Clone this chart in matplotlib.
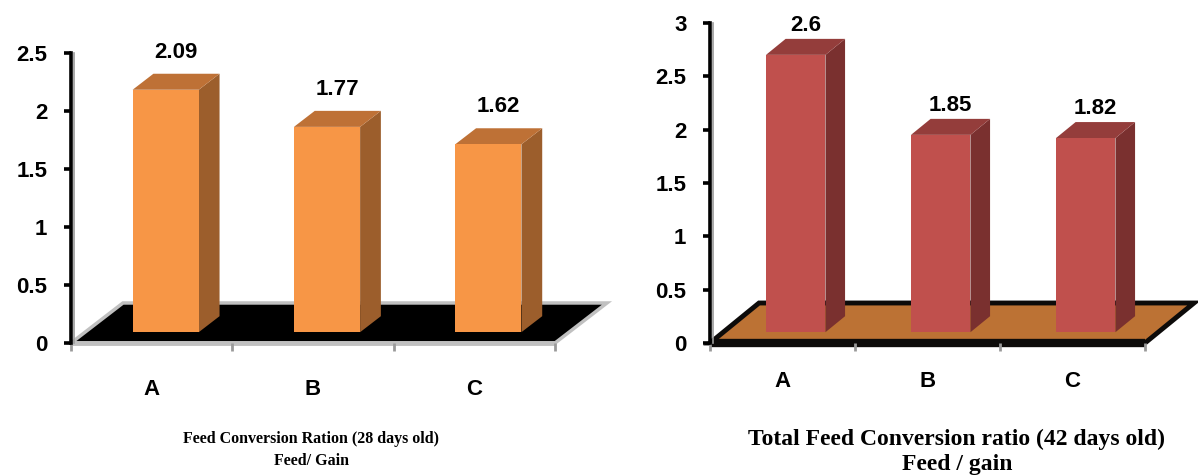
"""
Feed conversion ratio charts (28 and 42 days) drawn as pseudo-3D bars.
"""

import matplotlib
matplotlib.use("Agg")  # no display
import matplotlib.pyplot as plt
from matplotlib.patches import Polygon

# --- data -------------------------------------------------------------
grupos = ["A", "B", "C"]
fcr_28 = [2.09, 1.77, 1.62]
fcr_42 = [2.6, 1.85, 1.82]
rotulos_28 = ["2.09", "1.77", "1.62"]
rotulos_42 = ["2.6", "1.85", "1.82"]
ticks_28 = [0, 0.5, 1, 1.5, 2, 2.5]
ticks_28_txt = ["0", "0.5", "1", "1.5", "2", "2.5"]
ticks_42 = [0, 0.5, 1, 1.5, 2, 2.5, 3]
ticks_42_txt = ["0", "0.5", "1", "1.5", "2", "2.5", "3"]
titulo_28 = "Feed Conversion Ration (28 days old)\nFeed/ Gain"
titulo_42 = "Total Feed Conversion ratio (42 days old)\nFeed / gain"

W, H = 1198, 476
SANS = ["Liberation Sans", "DejaVu Sans"]
SERIF = ["Liberation Serif", "DejaVu Serif"]


def barras_3d(ax, valores, rotulos, ticks, ticks_txt, cores, prof,
              chao_cor, chao_borda, chao_lw, frente_lw, pad_cat, desloc_rot):
    """Bar chart with a slanted floor and boxes (front, top, side)."""
    fdx, fdy = prof
    n = len(valores)
    ax.set_xlim(-0.5, n - 0.5)
    ax.set_ylim(ticks[0], ticks[-1])

    # floor
    chao = Polygon([(-0.5, 0), (n - 0.5, 0), (n - 0.5 + fdx, fdy), (-0.5 + fdx, fdy)],
                   closed=True, facecolor=chao_cor, edgecolor=chao_borda,
                   linewidth=chao_lw, joinstyle="miter", clip_on=False, zorder=1)
    ax.add_patch(chao)
    ax.plot([-0.5, n - 0.5], [0, 0], color=chao_borda, lw=frente_lw,
            solid_capstyle="butt", clip_on=False, zorder=1.5)

    # bars: front face sits at 27% of the floor depth, box depth 40%
    f0, fb = 0.27, 0.40
    larg = 0.41
    bdx, bdy = fb * fdx, fb * fdy
    c_frente, c_topo, c_lado = cores
    for i, (v, txt) in enumerate(zip(valores, rotulos)):
        x0 = i + f0 * fdx - larg / 2
        x1 = x0 + larg
        y0 = f0 * fdy
        y1 = y0 + v
        ax.add_patch(Polygon([(x1, y0), (x1 + bdx, y0 + bdy), (x1 + bdx, y1 + bdy), (x1, y1)],
                             closed=True, facecolor=c_lado, edgecolor="none",
                             clip_on=False, zorder=3))
        ax.add_patch(Polygon([(x0, y1), (x1, y1), (x1 + bdx, y1 + bdy), (x0 + bdx, y1 + bdy)],
                             closed=True, facecolor=c_topo, edgecolor="none",
                             clip_on=False, zorder=3))
        ax.add_patch(Polygon([(x0, y0), (x1, y0), (x1, y1), (x0, y1)],
                             closed=True, facecolor=c_frente, edgecolor="none",
                             clip_on=False, zorder=3))
        ax.annotate(txt, (x0 + larg / 2 + bdx / 2, y1 + bdy), xytext=(0, desloc_rot),
                    textcoords="offset points", ha="center", va="bottom",
                    fontsize=16, fontweight="bold", family=SANS, zorder=4,
                    annotation_clip=False)

    # axes styling
    for s in ("top", "right", "bottom"):
        ax.spines[s].set_visible(False)
    ax.spines["left"].set_linewidth(2.6)
    ax.spines["left"].set_color("black")
    ax.plot([0.007, 0.007], [0, 1], transform=ax.transAxes, color="#9a9a9a",
            lw=1.2, clip_on=False, zorder=2)
    ax.set_yticks(ticks)
    ax.set_yticklabels(ticks_txt, fontsize=16, fontweight="bold", family=SANS)
    ax.tick_params(axis="y", direction="out", length=5, width=2.6,
                   color="black", pad=12)

    ax.set_xticks(range(n))
    ax.set_xticklabels(grupos, fontsize=16, fontweight="bold", family=SANS)
    ax.set_xticks([i - 0.5 for i in range(n + 1)], minor=True)
    ax.tick_params(axis="x", which="major", length=0, pad=pad_cat)
    ax.tick_params(axis="x", which="minor", direction="out", length=6,
                   width=2, color="#9a9a9a")
    ax.set_facecolor("none")


fig = plt.figure(figsize=(W / 100, H / 100), dpi=100)

ax1 = fig.add_axes([71 / W, 133 / H, 484 / W, 290 / H])
barras_3d(ax1, fcr_28, rotulos_28, ticks_28, ticks_28_txt,
          ("#F79646", "#BE7136", "#9C5E2C"), (0.322, 0.345),
          "black", "#c0c0c0", 2.5, 3.5, 26, 8)

ax2 = fig.add_axes([710 / W, 133 / H, 435 / W, 320 / H])
barras_3d(ax2, fcr_42, rotulos_42, ticks_42, ticks_42_txt,
          ("#C0504D", "#943D3B", "#7A302F"), (0.338, 0.375),
          "#BC7234", "#0d0b0a", 3.5, 6, 20, 2)

fig.text(311 / W, 1 - 450 / H, titulo_28, ha="center", va="center",
         fontsize=11.5, fontweight="bold", family=SERIF, linespacing=1.5)
fig.text(957 / W, 1 - 452 / H, titulo_42, ha="center", va="center",
         fontsize=17, fontweight="bold", family=SERIF, linespacing=1.3)

fig.savefig("out.png", dpi=100)
